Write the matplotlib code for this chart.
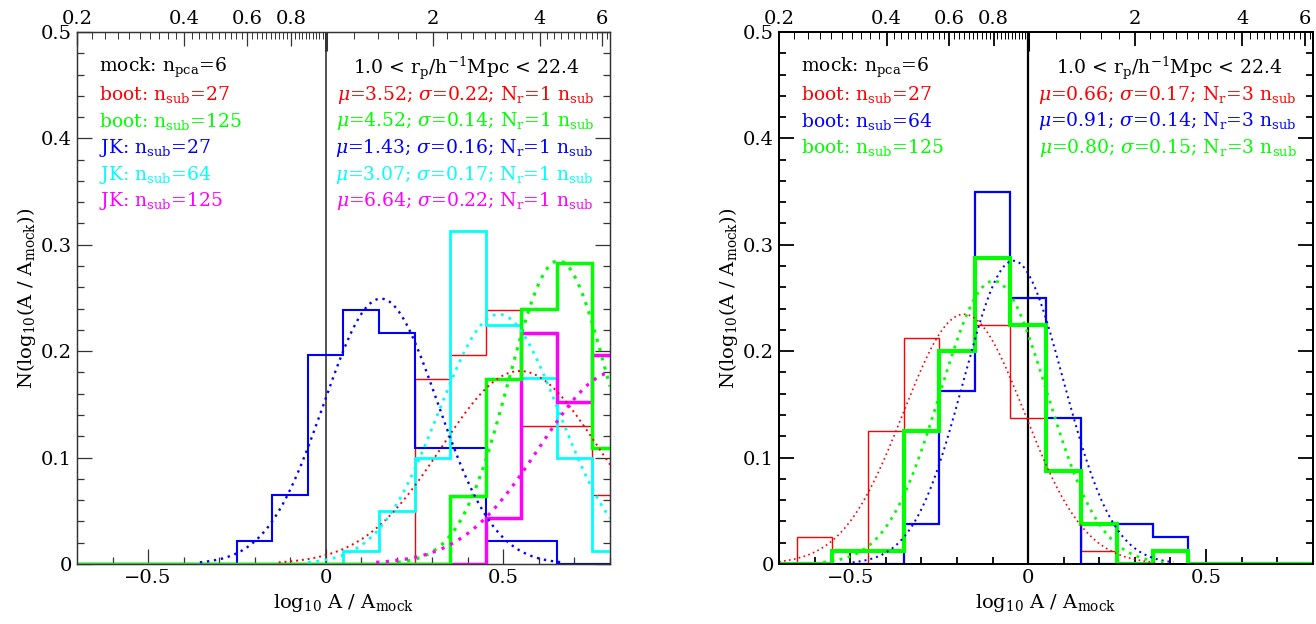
import numpy as np
import matplotlib
matplotlib.use("Agg")
import matplotlib.pyplot as plt

plt.rcParams['font.family'] = ['DejaVu Serif']
plt.rcParams['mathtext.fontset'] = 'dejavuserif'

# ===== bin centres (log10 A/Amock) =====
centers = [-0.7, -0.6, -0.5, -0.4, -0.3, -0.2, -0.1, 0.0, 0.1, 0.2, 0.3, 0.4, 0.5, 0.6, 0.7, 0.8]

# ===== left panel: histograms =====
L_boot27  = [0, 0, 0, 0, 0, 0, 0, 0, 0, 0, 0.174, 0.196, 0.239, 0.130, 0.130, 0.065]
L_boot125 = [0, 0, 0, 0, 0, 0, 0, 0, 0, 0, 0, 0.064, 0.174, 0.240, 0.283, 0.109]
L_jk27    = [0, 0, 0, 0, 0, 0.022, 0.065, 0.196, 0.239, 0.217, 0.109, 0.109, 0.022, 0.022, 0, 0]
L_jk64    = [0, 0, 0, 0, 0, 0, 0, 0, 0.0125, 0.050, 0.100, 0.3125, 0.225, 0.175, 0.100, 0.0125]
L_jk125   = [0, 0, 0, 0, 0, 0, 0, 0, 0, 0, 0, 0, 0.043, 0.217, 0.152, 0.196]

# fit parameters (mu in A/Amock, sigma in dex)
L_mu    = [3.52, 4.52, 1.43, 3.07, 6.64]
L_sigma = [0.22, 0.14, 0.16, 0.17, 0.22]
L_names = ["boot: n$_{\\rm sub}$=27", "boot: n$_{\\rm sub}$=125", "JK: n$_{\\rm sub}$=27",
           "JK: n$_{\\rm sub}$=64", "JK: n$_{\\rm sub}$=125"]
L_nr = [1, 1, 1, 1, 1]

# ===== right panel =====
R_boot27  = [0, 0.025, 0, 0.125, 0.2125, 0.200, 0.225, 0.1375, 0.0875, 0.0125, 0, 0, 0, 0, 0, 0]
R_boot64  = [0, 0, 0, 0, 0.0375, 0.1625, 0.350, 0.250, 0.1375, 0, 0.0375, 0.025, 0, 0, 0, 0]
R_boot125 = [0, 0, 0.0125, 0.0125, 0.125, 0.200, 0.2875, 0.225, 0.0875, 0.0375, 0, 0.0125, 0, 0, 0, 0]

R_mu    = [0.66, 0.91, 0.80]
R_sigma = [0.17, 0.14, 0.15]
R_names = ["boot: n$_{\\rm sub}$=27", "boot: n$_{\\rm sub}$=64", "boot: n$_{\\rm sub}$=125"]
R_nr = [3, 3, 3]

top_ticks = [0.2, 0.4, 0.6, 0.8, 1, 2, 4, 6]
top_labels = ["0.2", "0.4", "0.6", "0.8", "", "2", "4", "6"]

edges = np.append(np.array(centers) - 0.05, centers[-1] + 0.05)
xx = np.linspace(-0.7, 0.8, 400)
FS = 13.5


def gauss(mu, sig):
    m = np.log10(mu)
    y = 0.1 / (sig * np.sqrt(2 * np.pi)) * np.exp(-0.5 * ((xx - m) / sig) ** 2)
    return np.where(y > 0.0015, y, np.nan)


def setup(ax, fc, lw):
    ax.set_xlim(-0.7, 0.8)
    ax.set_ylim(0, 0.5)
    ax.set_xticks([-0.5, 0, 0.5])
    ax.set_xticklabels(["\u22120.5", "0", "0.5"])
    ax.set_xticks(np.arange(-0.6, 0.81, 0.1), minor=True)
    ax.set_yticks([0, 0.1, 0.2, 0.3, 0.4, 0.5])
    ax.set_yticklabels(["0", "0.1", "0.2", "0.3", "0.4", "0.5"])
    ax.set_yticks(np.arange(0, 0.5, 0.02), minor=True)
    ax.tick_params(which='both', direction='in', right=True, top=False, color=fc,
                   labelsize=14, width=lw)
    ax.tick_params(which='major', length=11)
    ax.tick_params(which='minor', length=5)
    for s in ax.spines.values():
        s.set_color(fc)
        s.set_linewidth(lw)
    ax.axvline(0, color=fc, lw=lw + 0.3, zorder=1)
    ax.set_xlabel("log$_{10}$ A / A$_{\\rm mock}$", fontsize=14, labelpad=4)
    ax.set_ylabel("N(log$_{10}$(A / A$_{\\rm mock}$))", fontsize=14, labelpad=2)

    # top axis in A/Amock (log positions)
    t = ax.twiny()
    t.set_xlim(-0.7, 0.8)
    t.set_xticks(np.log10(top_ticks))
    t.set_xticklabels(top_labels)
    minor = np.concatenate([np.arange(0.22, 1.0, 0.02), np.arange(1.2, 4.0, 0.2),
                            np.arange(4.2, 6.3, 0.2)])
    t.set_xticks(np.log10(minor), minor=True)
    t.tick_params(which='both', direction='in', color=fc, labelsize=14, pad=3)
    t.tick_params(which='major', length=10, width=lw)
    t.tick_params(which='minor', length=5, width=0.7)
    # the tick at A/Amock = 1 is drawn heavier
    one = t.xaxis.get_major_ticks()[4]
    one.tick2line.set_markersize(14)
    one.tick2line.set_markeredgewidth(2.2)
    for s in t.spines.values():
        s.set_color(fc)
        s.set_linewidth(lw)
    return t


def labels(ax, names, mus, sigs, nrs, cols):
    ax.text(0.041, 0.932, "mock: n$_{\\rm pca}$=6", transform=ax.transAxes, fontsize=FS, va='center')
    ax.text(0.943, 0.932, "1.0 < r$_{\\rm p}$/h$^{-1}$Mpc < 22.4", transform=ax.transAxes,
            fontsize=FS, va='center', ha='right')
    for i, (nm, mu, sg, nr, c) in enumerate(zip(names, mus, sigs, nrs, cols)):
        y = 0.882 - 0.05 * i
        ax.text(0.041, y, nm, color=c, transform=ax.transAxes, fontsize=FS, va='center')
        ax.text(0.97, y, "$\\mu$=%.2f; $\\sigma$=%.2f; N$_{\\rm r}$=%d n$_{\\rm sub}$" % (mu, sg, nr),
                color=c, transform=ax.transAxes, fontsize=FS, va='center', ha='right')


fig = plt.figure(figsize=(13.16, 6.24), dpi=100)
ax1 = fig.add_axes([0.0585, 0.0962, 0.405, 0.8526])
ax2 = fig.add_axes([0.592, 0.0962, 0.4055, 0.8526])

# ----- left -----
setup(ax1, '#333333', 0.9)
L_hist = [L_boot27, L_boot125, L_jk27, L_jk64, L_jk125]
L_cols = ['red', '#00ff00', 'blue', 'cyan', 'magenta']
L_lw = [1.0, 2.5, 1.5, 2.0, 2.5]
L_z = [3, 7, 4, 5, 6]
for h, c, lw, z in zip(L_hist, L_cols, L_lw, L_z):
    ax1.stairs(h, edges, color=c, lw=lw, zorder=z)
for mu, sg, c, lw in zip(L_mu, L_sigma, L_cols, L_lw):
    ax1.plot(xx, gauss(mu, sg), color=c, lw=lw * 0.6 + 0.8, ls=(0, (1, 2)), zorder=8)
labels(ax1, L_names, L_mu, L_sigma, L_nr, L_cols)

# ----- right -----
setup(ax2, 'black', 1.3)
R_hist = [R_boot27, R_boot64, R_boot125]
R_cols = ['red', 'blue', '#00ff00']
R_lw = [1.0, 1.6, 3.0]
for h, c, lw in zip(R_hist, R_cols, R_lw):
    ax2.stairs(h, edges, color=c, lw=lw, zorder=4)
for mu, sg, c, lw in zip(R_mu, R_sigma, R_cols, R_lw):
    ax2.plot(xx, gauss(mu, sg), color=c, lw=lw * 0.4 + 0.8, ls=(0, (1, 2)), zorder=5)
labels(ax2, R_names, R_mu, R_sigma, R_nr, R_cols)

fig.savefig("out.png", dpi=100)
